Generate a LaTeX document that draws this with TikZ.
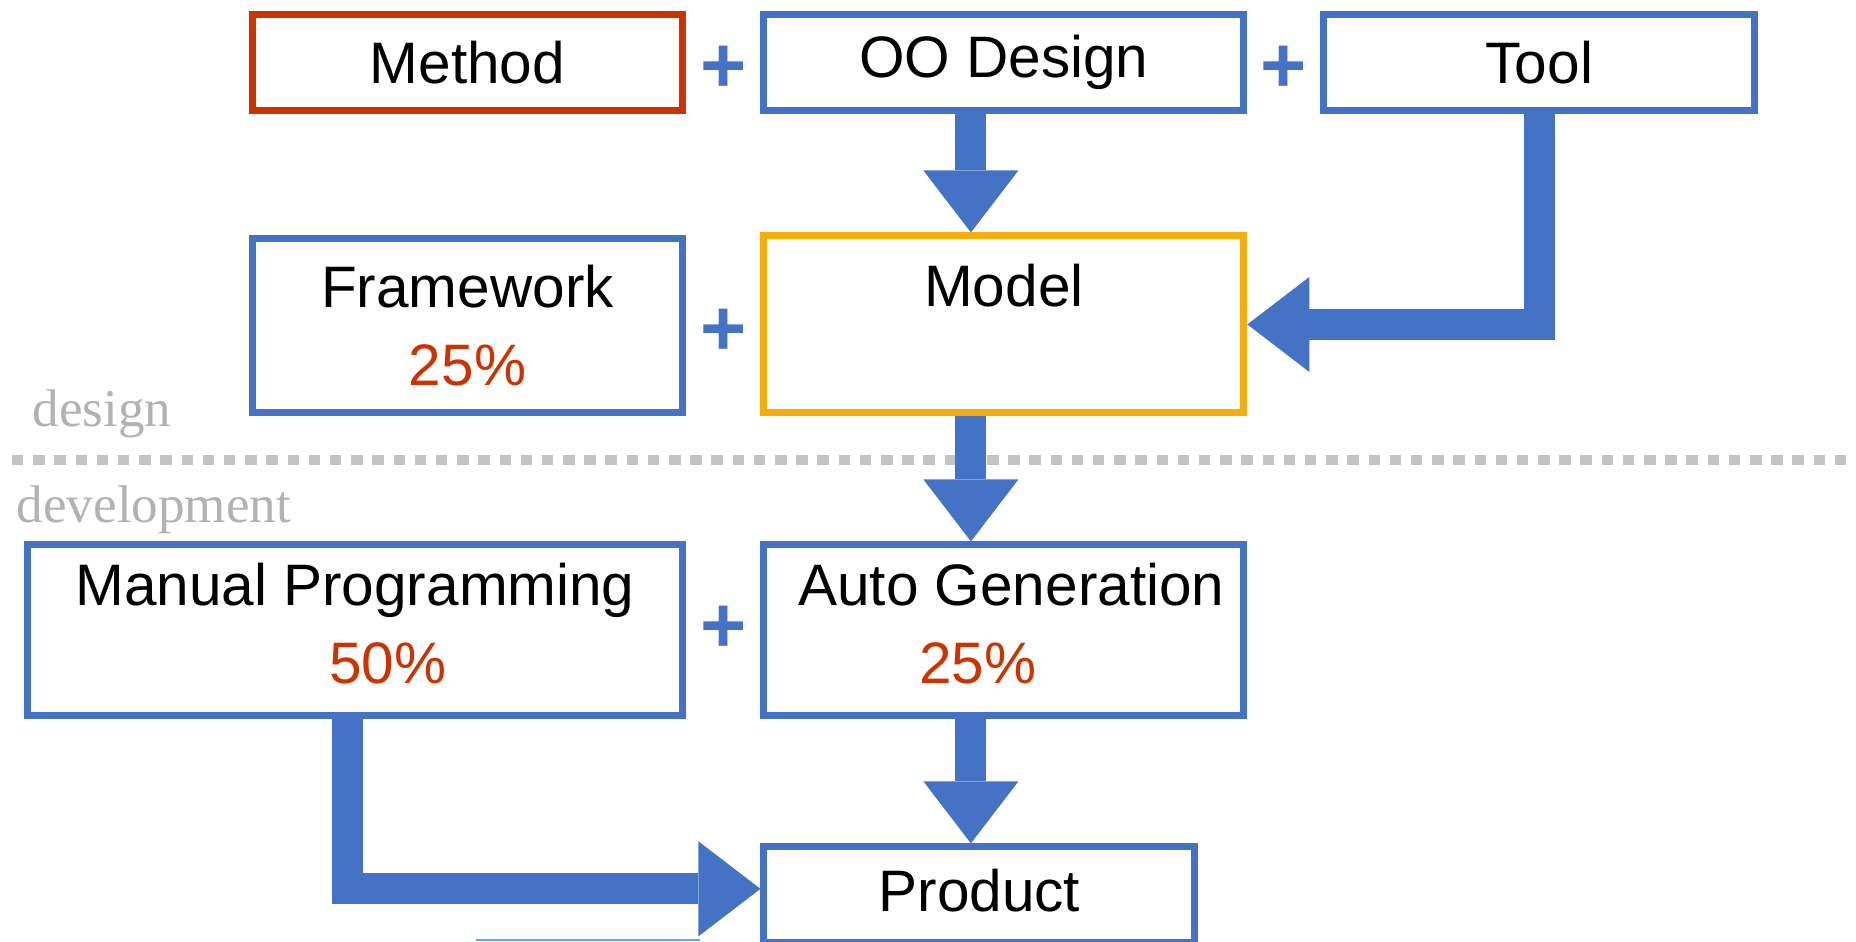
\documentclass[tikz,border=0pt]{standalone}
\usepackage{fontspec}
\setmainfont{Liberation Sans}
\newfontfamily\phasefont{Liberation Serif}
\usepackage{tikz}
\usetikzlibrary{arrows.meta, positioning, calc}
\definecolor{boxblue}{RGB}{68, 114, 196}
\definecolor{accentred}{RGB}{204, 51, 0}
\definecolor{modelgold}{RGB}{245, 174, 12}
\definecolor{phasegray}{RGB}{178, 178, 178}
\definecolor{dashgray}{RGB}{196, 196, 196}
\definecolor{edgeblue}{RGB}{100, 165, 235}
\newcommand\stagesize{\fontsize{33.3}{44.4}\selectfont}

\begin{document}
\begin{tikzpicture}[
    x=0.02cm, y=-0.02cm,
    stage/.style={draw=boxblue, line width=0.14cm, fill=white, align=center, inner sep=0pt, font=\stagesize, minimum height=1.92cm},
    arrow/.style={-{Triangle[length=1.24cm, width=1.9cm, line width=0pt]}, line width=0.62cm, boxblue, line join=miter},
    plussign/.style={text=boxblue, font=\fontsize{45}{45}\selectfont\bfseries, inner sep=0pt, yshift=-0.14cm},
    phase/.style={text=phasegray, font=\phasefont\fontsize{30.2}{30.2}\selectfont, anchor=base west, inner sep=0pt},
    divider/.style={draw=dashgray, line width=0.2cm, dash pattern=on 0.23cm off 0.194cm}
]
    \useasboundingbox (0,0) rectangle (1856,941);

    % Nodes - design
    \node[stage, draw=accentred, minimum width=8.62cm] (method) at (467.5,62.5) {Method};
    \node[stage, minimum width=9.6cm, right=1.48cm of method] (oodesign) {OO Design};
    \node[stage, minimum width=8.62cm, right=1.46cm of oodesign] (tool) {Tool};
    \node[stage, minimum width=8.62cm, minimum height=3.48cm, below=2.43cm of method] (framework) {Framework\\{\color{accentred}25\%}};
    \node[stage, draw=modelgold, minimum width=9.6cm, minimum height=3.54cm, below=2.37cm of oodesign] (model) {Model\\\phantom{25\%}};

    % Nodes - development
    \node[stage, minimum width=9.6cm, minimum height=3.42cm, text depth=0.3cm, below=2.5cm of model] (autogen) {\hspace*{0.3cm}Auto Generation\\{\color{accentred}25\%}\hspace*{1.04cm}};
    \node[stage, minimum width=13.12cm, minimum height=3.42cm, text depth=0.3cm, left=1.48cm of autogen] (manual) {Manual Programming\\\hspace*{1.32cm}{\color{accentred}50\%}};
    \node[stage, minimum width=8.62cm, text depth=0.2cm, below=2.48cm of autogen, xshift=-0.49cm] (product) {Product};

    % Plus signs
    \node[plussign] (plusa) at ($(method.east)!0.5!(oodesign.west)$) {+};
    \node[plussign] (plusb) at ($(oodesign.east)!0.5!(tool.west)$) {+};
    \node[plussign] (plusc) at ($(framework.east)!0.5!(model.west)$) {+};
    \node[plussign, yshift=0.16cm] (plusd) at ($(manual.east)!0.5!(autogen.west)$) {+};

    % Phase divider
    \draw[divider] (12,460) -- (1856,460);
    \node[phase] (designlbl) at (32.5,426) {design};
    \node[phase] (devlbl) at (16.5,522) {development};
    \draw[edgeblue, line width=0.04cm] (476,940) -- (700,940);

    % Arrows
    \draw[arrow] ([xshift=-0.66cm]oodesign.south) -- ([xshift=-0.66cm]model.north);
    \draw[arrow] (tool.south) |- (model.east);
    \draw[arrow] ([xshift=-0.66cm]model.south) -- ([xshift=-0.66cm]autogen.north);
    \draw[arrow] ([xshift=-0.66cm]autogen.south) -- ([xshift=-0.17cm]product.north);
    \draw[arrow] ([xshift=-0.16cm]manual.south) |- ([yshift=0.12cm]product.west);
\end{tikzpicture}
\end{document}
